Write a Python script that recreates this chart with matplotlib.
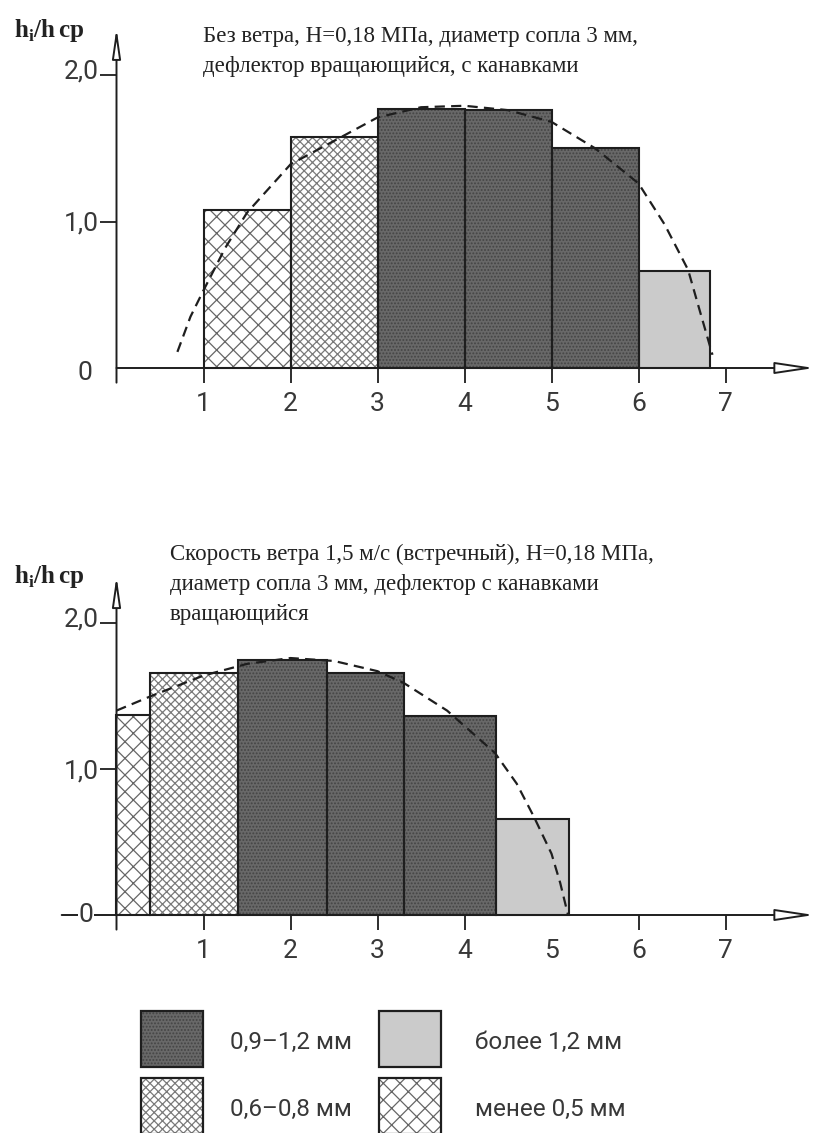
import matplotlib.pyplot as plt
from matplotlib.patches import Rectangle
from matplotlib.transforms import ScaledTranslation

W, H = 815, 1133

# classes of drop size (legend order: row by row)
classes = ["0,9–1,2 мм", "более 1,2 мм", "0,6–0,8 мм", "менее 0,5 мм"]

# top chart: no wind
top_title = ["Без ветра, Н=0,18 МПа, диаметр сопла 3 мм,",
             "дефлектор вращающийся, с канавками"]
top_edges = [1, 2, 3, 4, 5, 6, 6.82]
top_heights = [1.08, 1.58, 1.77, 1.76, 1.50, 0.66]
top_cls = ["менее 0,5 мм", "0,6–0,8 мм", "0,9–1,2 мм", "0,9–1,2 мм", "0,9–1,2 мм", "более 1,2 мм"]
top_curve_x = [0.70, 0.85, 1.0, 1.25, 1.5, 2.0, 2.5, 3.0, 3.5, 4.0, 4.5, 5.0, 5.5, 6.0, 6.3, 6.57, 6.7, 6.85]
top_curve_y = [0.11, 0.35, 0.53, 0.82, 1.06, 1.39, 1.55, 1.71, 1.78, 1.79, 1.76, 1.68, 1.50, 1.26, 0.98, 0.67, 0.40, 0.09]

# bottom chart: head wind 1.5 m/s
bot_title = ["Скорость ветра 1,5 м/с (встречный), Н=0,18 МПа,",
             "диаметр сопла 3 мм, дефлектор с канавками",
             "вращающийся"]
bot_edges = [0, 0.385, 1.40, 2.42, 3.30, 4.36, 5.20]
bot_heights = [1.37, 1.66, 1.75, 1.66, 1.36, 0.66]
bot_cls = ["менее 0,5 мм", "0,6–0,8 мм", "0,9–1,2 мм", "0,9–1,2 мм", "0,9–1,2 мм", "более 1,2 мм"]
bot_curve_x = [0, 0.4, 1.0, 1.5, 2.0, 2.5, 3.0, 3.3, 3.8, 4.35, 4.6, 4.8, 5.0, 5.1, 5.19]
bot_curve_y = [1.40, 1.50, 1.64, 1.72, 1.76, 1.74, 1.67, 1.59, 1.40, 1.11, 0.90, 0.67, 0.42, 0.22, 0.0]

xticks = [1, 2, 3, 4, 5, 6, 7]
yticks = [1, 2]
ytick_labels = ["1,0", "2,0"]

styles = {
    "0,9–1,2 мм": dict(fc="#686868", hatch=".....", hc="#444444"),
    "более 1,2 мм": dict(fc="#cbcbcb", hatch=None, hc="#cbcbcb"),
    "0,6–0,8 мм": dict(fc="white", hatch="xxxx", hc="#7a7a7a"),
    "менее 0,5 мм": dict(fc="white", hatch="xx", hc="#666666"),
}

plt.rcParams["hatch.linewidth"] = 0.9
plt.rcParams["mathtext.fontset"] = "custom"
plt.rcParams["mathtext.bf"] = "Liberation Serif:bold"
plt.rcParams["mathtext.rm"] = "Liberation Serif"

GOST = dict(family=["Roboto", "DejaVu Sans"], fontweight="normal", color="#383838")
SERIF = ["Liberation Serif", "DejaVu Serif"]
INK = "#1e1e1e"

fig = plt.figure(figsize=(W / 100, H / 100), dpi=100)


def chart_axes(ox, oy, ux, uy, xlim, ylim):
    left = ox + xlim[0] * ux
    right = ox + xlim[1] * ux
    top = oy - ylim[1] * uy
    bottom = oy - ylim[0] * uy
    ax = fig.add_axes([left / W, 1 - bottom / H, (right - left) / W, (bottom - top) / H])
    ax.set_xlim(xlim)
    ax.set_ylim(ylim)
    ax.patch.set_alpha(0)
    return ax


def draw_chart(ax, edges, heights, cls, cx, cy, x_start, hide_tick5):
    lefts = edges[:-1]
    widths = [b - a for a, b in zip(edges[:-1], edges[1:])]
    for c in classes:
        idx = [i for i, k in enumerate(cls) if k == c]
        if not idx:
            continue
        st = styles[c]
        ax.bar([lefts[i] for i in idx], [heights[i] for i in idx], [widths[i] for i in idx],
               align="edge", color=st["fc"], edgecolor=st["hc"], hatch=st["hatch"],
               linewidth=0, zorder=2)
        ax.bar([lefts[i] for i in idx], [heights[i] for i in idx], [widths[i] for i in idx],
               align="edge", fill=False, edgecolor=INK, linewidth=1.5, zorder=3)

    ax.plot(cx, cy, color=INK, lw=1.6, ls=(0, (4.6, 2.8)), zorder=5)

    # axes with open arrow heads
    ax.annotate("", xy=(8.02, 0), xytext=(x_start, 0),
                arrowprops=dict(arrowstyle="-|>,head_length=24,head_width=3.6", mutation_scale=1,
                                fc="white", ec=INK, lw=1.4, shrinkA=0, shrinkB=0), zorder=4)
    ax.annotate("", xy=(0, 2.32), xytext=(0, -0.1),
                arrowprops=dict(arrowstyle="-|>,head_length=18,head_width=2.6", mutation_scale=1,
                                fc="white", ec=INK, lw=1.4, shrinkA=0, shrinkB=0), zorder=4)

    for s in ax.spines.values():
        s.set_visible(False)
    ax.spines["bottom"].set_position(("data", 0))
    ax.spines["left"].set_position(("data", 0))
    ax.set_xticks(xticks)
    ax.set_xticklabels([str(t) for t in xticks], fontsize=19, **GOST)
    ax.set_yticks(yticks)
    ax.set_yticklabels(ytick_labels, fontsize=19, **GOST)
    ax.tick_params(axis="x", direction="out", length=11, width=1.3, color=INK, pad=6)
    ax.tick_params(axis="y", direction="out", length=11.5, width=1.3, color=INK, pad=1.5)
    if hide_tick5:
        ax.xaxis.get_major_ticks()[4].tick1line.set_visible(False)
    # "2,0" sits a little above its tick
    lbl = ax.yaxis.get_majorticklabels()[1]
    lbl.set_transform(lbl.get_transform() + ScaledTranslation(0, 4 / 72, fig.dpi_scale_trans))


# top chart
ax1 = chart_axes(116.5, 368, 87, 146.5, (-1.3, 8.05), (-0.3, 2.35))
draw_chart(ax1, top_edges, top_heights, top_cls, top_curve_x, top_curve_y, 0, False)
ax1.text(-0.36, -0.035, "0", fontsize=19, ha="center", va="center", **GOST)

# bottom chart
ax2 = chart_axes(116.5, 915, 87, 146, (-1.3, 8.05), (-0.3, 2.35))
draw_chart(ax2, bot_edges, bot_heights, bot_cls, bot_curve_x, bot_curve_y, -0.63, True)
ax2.text(-0.35, 0, "0", fontsize=19, ha="center", va="center", zorder=6,
         bbox=dict(fc="white", ec="none", pad=0.5), **GOST)


def px(x, y):
    return x / W, 1 - y / H


# titles
for i, line in enumerate(top_title):
    fig.text(*px(203, 42 + 30 * i), line, family=SERIF, fontsize=16.5, color="#222222", va="baseline")
for i, line in enumerate(bot_title):
    fig.text(*px(170, 560 + 30 * i), line, family=SERIF, fontsize=16.5, color="#222222", va="baseline")

ylab = r"$\mathbf{h}_{\mathbf{i}}\mathbf{/h}\,\mathbf{cp}$"
fig.text(*px(14, 37), ylab, fontsize=18, color="#222222", va="baseline")
fig.text(*px(14, 583), ylab, fontsize=18, color="#222222", va="baseline")

# legend
leg = fig.add_axes([0, 0, 1, 1])
leg.set_xlim(0, W)
leg.set_ylim(H, 0)
leg.axis("off")
box_x = [141, 379]
text_x = [230, 475]
row_y = [1011, 1078]
for k, c in enumerate(classes):
    r, col = divmod(k, 2)
    st = styles[c]
    leg.add_patch(Rectangle((box_x[col], row_y[r]), 62, 56, facecolor=st["fc"], edgecolor=st["hc"],
                            hatch=st["hatch"], linewidth=0))
    leg.add_patch(Rectangle((box_x[col], row_y[r]), 62, 56, fill=False, edgecolor=INK, linewidth=1.6))
    leg.text(text_x[col], row_y[r] + 31, c, fontsize=17.5, va="center", **GOST)

fig.savefig("out.png", dpi=100)
